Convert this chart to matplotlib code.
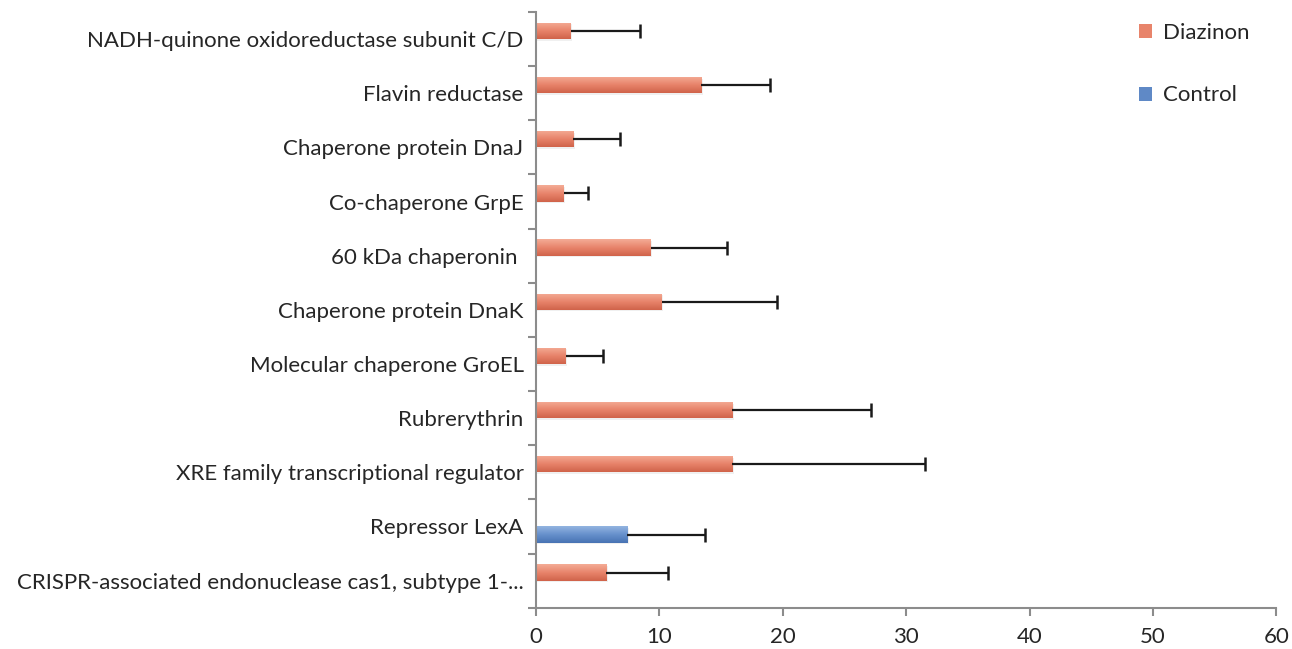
import matplotlib.pyplot as plt
import numpy as np
from matplotlib.colors import LinearSegmentedColormap
from matplotlib.patches import Patch

# categories listed bottom -> top
proteins = [
    "CRISPR-associated endonuclease cas1, subtype 1-...",
    "Repressor LexA",
    "XRE family transcriptional regulator",
    "Rubrerythrin",
    "Molecular chaperone GroEL",
    "Chaperone protein DnaK",
    "60 kDa chaperonin ",
    "Co-chaperone GrpE",
    "Chaperone protein DnaJ",
    "Flavin reductase",
    "NADH-quinone oxidoreductase subunit C/D",
]
diazinon = [5.7, 0, 15.9, 15.9, 2.4, 10.2, 9.3, 2.25, 3.0, 13.4, 2.8]
diazinon_err = [5.0, 0, 15.6, 11.25, 3.0, 9.3, 6.15, 1.95, 3.8, 5.6, 5.6]
control = [0, 7.4, 0, 0, 0, 0, 0, 0, 0, 0, 0]
control_err = [0, 6.3, 0, 0, 0, 0, 0, 0, 0, 0, 0]

plt.rcParams['font.family'] = ['Lato', 'DejaVu Sans']

fig = plt.figure(figsize=(12.92, 6.49), dpi=100)
ax = fig.add_axes([0.4149, 0.0636, 0.5729, 0.918])

y = np.arange(len(proteins))
h = 0.3

orange_cmap = LinearSegmentedColormap.from_list("o", ["#F4AC96", "#E8846B", "#D0634A"])
blue_cmap = LinearSegmentedColormap.from_list("b", ["#93B4E0", "#6690CC", "#4873B3"])


def draw(vals, errs, offset, base, cmap, label):
    vals = np.array(vals)
    errs = np.array(errs)
    bars = ax.barh(y + offset, vals, height=h, color=base, linewidth=0, label=label, zorder=2)
    grad = np.linspace(0, 1, 64).reshape(-1, 1)
    for b, v in zip(bars, vals):
        if v <= 0:
            continue
        x0, y0 = b.get_x(), b.get_y()
        # soft shadow under bar
        ax.barh(y0 + b.get_height() / 2 - 0.03, v + 0.12, height=h, left=x0,
                color="#cfcfcf", alpha=0.3, linewidth=0, zorder=1.5)
        im = ax.imshow(grad, cmap=cmap, aspect="auto", zorder=2.1,
                       extent=(x0, x0 + v, y0, y0 + b.get_height()))
        im.set_clip_path(b)
    m = vals > 0
    eb = ax.errorbar(vals[m], y[m] + offset, xerr=[np.zeros(m.sum()), errs[m]], fmt="none",
                     ecolor="#1a1a1a", elinewidth=1.6, capsize=5, capthick=1.8, zorder=3)
    # excel only shows the plus cap
    for cap in eb.lines[1]:
        if np.allclose(cap.get_xdata(), vals[m]):
            cap.set_visible(False)
    return bars


draw(diazinon, diazinon_err, h / 2, "#E8846B", orange_cmap, "Diazinon")
draw(control, control_err, -h / 2, "#6690CC", blue_cmap, "Control")

ax.set_xlim(0, 60)
ax.set_ylim(-0.5, len(proteins) - 0.5)
ax.set_xticks(range(0, 61, 10))
ax.set_yticks(y)
ax.set_yticklabels(proteins)
ax.set_yticks(np.arange(-0.5, len(proteins), 1), minor=True)
ax.tick_params(axis="y", which="major", length=0, pad=9, labelsize=16, labelcolor="#262626")
ax.tick_params(axis="y", which="minor", length=6, width=1.5, color="#8c8c8c", direction="out")
ax.tick_params(axis="x", length=6, width=1.5, color="#8c8c8c", labelsize=16,
               labelcolor="#262626", pad=8)

for s in ["top", "right"]:
    ax.spines[s].set_visible(False)
for s in ["left", "bottom"]:
    ax.spines[s].set_color("#8c8c8c")
    ax.spines[s].set_linewidth(1.5)

hd = [Patch(facecolor="#E8846B"), Patch(facecolor="#5F89C6")]
fig.legend(hd, ["Diazinon", "Control"], loc="upper left", bbox_to_anchor=(0.866, 0.995),
           frameon=False, fontsize=16, labelspacing=1.9, handlelength=0.6,
           handleheight=0.6, handletextpad=0.5, labelcolor="#262626")

fig.savefig("out.png", dpi=100, facecolor="white")
